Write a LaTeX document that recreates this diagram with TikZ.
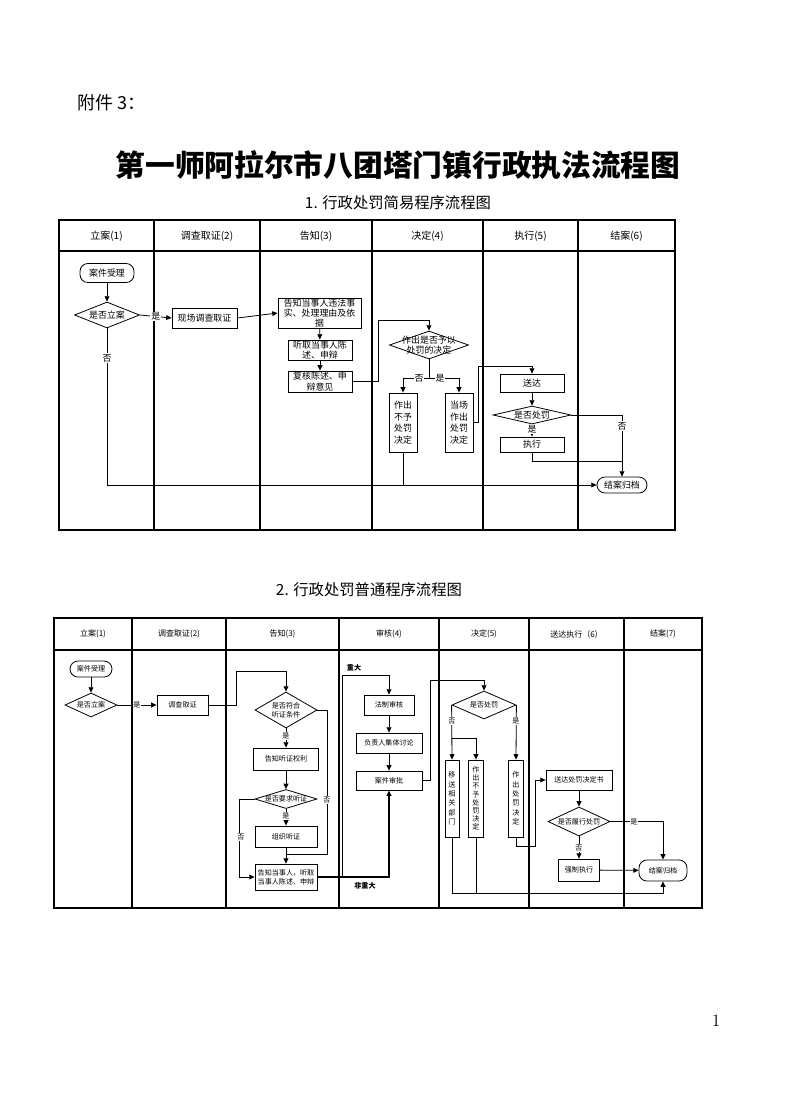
\documentclass[tikz,border=0pt]{standalone}
\usepackage{fontspec}
\newfontfamily\cjk{Noto Sans CJK SC}
\usetikzlibrary{shapes.geometric,arrows.meta,positioning,calc}

\tikzset{
  lane/.style={line width=0.9pt},
  box/.style={draw, rectangle, inner sep=0pt, align=center, line width=0.6pt},
  dec/.style={draw, diamond, inner sep=0pt, line width=0.6pt},
  term/.style={draw, rounded corners=6pt, inner sep=0pt, line width=0.6pt},
  flow/.style={line width=0.6pt, -{Triangle[length=4pt,width=3.6pt]}},
  link/.style={line width=0.6pt},
  lbl/.style={fill=white, inner sep=0.6pt},
  tA/.style={align=center, font=\cjk\fontsize{6.7}{7.8}\selectfont},
  tB/.style={align=center, font=\cjk\fontsize{5.3}{6.6}\selectfont},
  headA/.style={font=\cjk\fontsize{7.5}{9}\selectfont},
  headB/.style={font=\cjk\fontsize{6}{7}\selectfont},
}

\begin{document}
\begin{tikzpicture}[x=0.75pt, y=-0.75pt]
\useasboundingbox (0,0) rectangle (794,1108);

% Titles
\node[anchor=west, font=\cjk\fontsize{13.5}{16}\selectfont] (annex) at (73,103) {附件 3：};
\node[font=\cjk\bfseries\fontsize{22.3}{27}\selectfont] (title) at (398,165) {第一师阿拉尔市八团塔门镇行政执法流程图};
\node[font=\cjk\fontsize{11.5}{13}\selectfont] (subA) at (398,203) {1. 行政处罚简易程序流程图};
\node[font=\cjk\fontsize{11.5}{13}\selectfont] (subB) at (369,590) {2. 行政处罚普通程序流程图};
\node[font=\fontsize{13}{15}\selectfont] (pageno) at (716,1021) {1};

% Lanes, simple procedure
\draw[lane] (59,220) rectangle (675,530);
\draw[lane] (59,251) -- (675,251);
\draw[lane] (154,220) -- (154,530);
\draw[lane] (260,220) -- (260,530);
\draw[lane] (372,220) -- (372,530);
\draw[lane] (483,220) -- (483,530);
\draw[lane] (578,220) -- (578,530);
\node[headA] (aHead1) at (106.5,236) {立案(1)};
\node[headA] (aHead2) at (207,236) {调查取证(2)};
\node[headA] (aHead3) at (316,236) {告知(3)};
\node[headA] (aHead4) at (427.5,236) {决定(4)};
\node[headA] (aHead5) at (530.5,236) {执行(5)};
\node[headA] (aHead6) at (626.5,236) {结案(6)};

% Nodes, simple procedure
\node[term, tA, minimum width=40.5pt, minimum height=14.3pt] (aAccept) at (107,273) {案件受理};
\node[dec, minimum width=48.8pt, minimum height=19.5pt, label={[tA]center:是否立案}] (aFile) at (107,315) {};
\node[box, tA, minimum width=48.8pt, minimum height=15pt] (aInvest) at (204.5,318) {现场调查取证};
\node[box, tA, minimum width=62.3pt, minimum height=22.5pt] (aNotify) at (319.5,313) {告知当事人违法事\\实、处理理由及依\\据};
\node[box, tA, minimum width=48pt, minimum height=15pt] (aHear) at (320,350) {听取当事人陈\\述、申辩};
\node[box, tA, minimum width=48pt, minimum height=15.8pt] (aReview) at (320,381.5) {复核陈述、申\\辩意见};
\node[dec, minimum width=59.3pt, minimum height=21pt, label={[tA]center:作出是否予以\\处罚的决定}] (aDecide) at (429,345) {};
\node[box, tA, minimum width=21pt, minimum height=44.3pt, font=\cjk\fontsize{6.7}{8.6}\selectfont] (aNo) at (403,422.5) {作出\\不予\\处罚\\决定};
\node[box, tA, minimum width=21pt, minimum height=44.3pt, font=\cjk\fontsize{6.7}{8.6}\selectfont] (aYes) at (459,422.5) {当场\\作出\\处罚\\决定};
\node[box, tA, minimum width=48pt, minimum height=13.5pt] (aServe) at (532,383) {送达};
\node[dec, minimum width=58.5pt, minimum height=13.5pt, label={[tA]center:是否处罚}] (aPunish) at (532,415) {};
\node[box, tA, minimum width=48pt, minimum height=11.3pt] (aExec) at (532,444.5) {执行};
\node[term, tA, minimum width=37.5pt, minimum height=12pt] (aClose) at (622,485) {结案归档};
\coordinate (aSplit) at ($(aDecide.south)+(0,19)$);

% Connectors, simple procedure
\draw[flow] (aAccept) -- (aFile);
\draw[flow] (aFile.east) -- (aInvest.west) node[lbl, tA, midway] (aYesLbl) {是};
\draw[flow] (aInvest.east) -- (aNotify.west);
\draw[flow] (aNotify) -- (aHear);
\draw[flow] (aHear) -- (aReview);
\draw[flow] (aReview.east) -- ++(26,0) |- ($(aDecide.north)+(0,-10)$) -- (aDecide.north);
\draw[link] (aDecide.south) -- (aSplit);
\draw[flow] (aSplit) -| (aNo.north);
\draw[flow] (aSplit) -| (aYes.north);
\node[lbl, tA] (aSplitNo) at (419,378) {否};
\node[lbl, tA] (aSplitYes) at (440,378) {是};
\draw[flow] (aYes.east) -- ++(5,0) |- ($(aServe.north)+(0,-7)$) -- (aServe.north);
\draw[flow] (aServe) -- (aPunish);
\draw[flow] (aPunish) -- (aExec);
\node[lbl, tA] (aPunishYes) at (532,429) {是};
\draw[flow] (aPunish.east) -| (aClose.north);
\node[lbl, tA] (aPunishNo) at (622,426) {否};
\draw[link] (aExec.south) |- ($(aClose.north)+(0,-15)$);
\draw[flow] (aFile.south) |- (aClose.west);
\node[lbl, tA] (aFileNo) at (107,358) {否};
\draw[link] (aNo.south) -- (aNo.south |- aClose.west);

% Lanes, ordinary procedure
\draw[lane] (54,618) rectangle (702,908);
\draw[lane] (54,650) -- (702,650);
\draw[lane] (132,618) -- (132,908);
\draw[lane] (226,618) -- (226,908);
\draw[lane] (339,618) -- (339,908);
\draw[lane] (439,618) -- (439,908);
\draw[lane] (529,618) -- (529,908);
\draw[lane] (624,618) -- (624,908);
\node[headB] (bHead1) at (93,634) {立案(1)};
\node[headB] (bHead2) at (179,634) {调查取证(2)};
\node[headB] (bHead3) at (282.5,634) {告知(3)};
\node[headB] (bHead4) at (389,634) {审核(4)};
\node[headB] (bHead5) at (484,634) {决定(5)};
\node[headB] (bHead6) at (576.5,634) {送达执行（6）};
\node[headB] (bHead7) at (663,634) {结案(7)};

% Nodes, ordinary procedure
\node[term, tB, minimum width=31.5pt, minimum height=12pt] (bAccept) at (91,669) {案件受理};
\node[dec, minimum width=39pt, minimum height=18pt, label={[tB]center:是否立案}] (bFile) at (91,705) {};
\node[box, tB, minimum width=38.3pt, minimum height=15pt] (bInvest) at (182.5,705) {调查取证};
\node[dec, minimum width=46.5pt, minimum height=27pt, label={[tB]center:是否符合\\听证条件}] (bHearCond) at (286,710) {};
\node[box, tB, minimum width=48.8pt, minimum height=16.5pt] (bRight) at (286,759) {告知听证权利};
\node[dec, minimum width=46.5pt, minimum height=14.3pt, label={[tB]center:是否要求听证}] (bAsk) at (286,799) {};
\node[box, tB, minimum width=46.5pt, minimum height=15.8pt] (bOrg) at (286,836.5) {组织听证};
\node[box, tB, minimum width=46.5pt, minimum height=19.5pt] (bTell) at (286,877) {告知当事人，听取\\当事人陈述、申辩};
\node[box, tB, minimum width=37.5pt, minimum height=15pt] (bLegal) at (389,705) {法制审核};
\node[box, tB, minimum width=49.5pt, minimum height=15pt] (bGroup) at (389,743) {负责人集体讨论};
\node[box, tB, minimum width=49.5pt, minimum height=14.3pt] (bApprove) at (389,780.5) {案件审批};
\node[dec, minimum width=48pt, minimum height=21pt, label={[tB]center:是否处罚}] (bPunish) at (484,705) {};
\node[box, tB, minimum width=10.5pt, minimum height=57.8pt, font=\cjk\fontsize{5.3}{7}\selectfont] (bTransfer) at (452,798.5) {移\\送\\相\\关\\部\\门};
\node[box, tB, minimum width=11.3pt, minimum height=57.8pt, font=\cjk\fontsize{5.3}{6.1}\selectfont] (bNone) at (476,798.5) {作\\出\\不\\予\\处\\罚\\决\\定};
\node[box, tB, minimum width=11.3pt, minimum height=57.8pt, font=\cjk\fontsize{5.3}{7}\selectfont] (bDo) at (516,798.5) {作\\出\\处\\罚\\决\\定};
\node[box, tB, minimum width=49.5pt, minimum height=15pt] (bServe) at (579,780) {送达处罚决定书};
\node[dec, minimum width=46.5pt, minimum height=21.8pt, label={[tB]center:是否履行处罚}] (bComply) at (579,821.5) {};
\node[box, tB, minimum width=30.8pt, minimum height=16.5pt] (bForce) at (579,870) {强制执行};
\node[term, tB, minimum width=36pt, minimum height=15.8pt] (bClose) at (663,870.5) {结案归档};
\coordinate (bFork) at ($(bTell.east)+(25,0)$);
\coordinate (bSplit) at ($(bPunish.west)+(0,33)$);
\coordinate (bBottom) at ($(bClose.south)+(0,12)$);

% Connectors, ordinary procedure
\draw[flow] (bAccept) -- (bFile);
\draw[flow] (bFile.east) -- (bInvest.west) node[lbl, tB, midway] (bFileYes) {是};
\draw[flow] (bInvest.east) -- ++(28,0) |- ($(bHearCond.north)+(0,-20)$) -- (bHearCond.north);
\draw[flow] (bHearCond) -- (bRight);
\node[lbl, tB] (bHearYes) at (286,736) {是};
\draw[link] (bHearCond.east) -| ($(bTell.north)+(41,-9)$) -- ($(bTell.north)+(0,-9)$);
\node[lbl, tB] (bHearNo) at (327,800) {否};
\draw[flow] (bRight) -- (bAsk);
\draw[flow] (bAsk) -- (bOrg);
\node[lbl, tB] (bAskYes) at (286,816) {是};
\draw[flow] (bOrg) -- (bTell);
\draw[flow] (bAsk.west) -| ($(bTell.west)+(-15,0)$) -- (bTell.west);
\node[lbl, tB] (bAskNo) at (241,837) {否};
\draw[flow, line width=1.1pt] (bTell.east) -| (bApprove.south);
\draw[flow] (bFork) |- ($(bLegal.north)+(0,-19)$) -- (bLegal.north);
\node[tB, font=\cjk\bfseries\fontsize{5.3}{6.6}\selectfont] (bMajor) at (354,668) {重大};
\node[tB, font=\cjk\bfseries\fontsize{5.3}{6.6}\selectfont] (bMinor) at (365,886) {非重大};
\draw[flow] (bLegal) -- (bGroup);
\draw[flow] (bGroup) -- (bApprove);
\draw[flow] (bApprove.east) -- ++(8,0) |- ($(bPunish.north)+(0,-10)$) -- (bPunish.north);
\draw[flow] (bPunish.west) -- (bTransfer.north);
\draw[flow] (bSplit) -| (bNone.north);
\node[lbl, tB] (bPunishNo) at (452,721) {否};
\draw[flow] (bPunish.east) -- (bDo.north);
\node[lbl, tB] (bPunishYes) at (516,721) {是};
\draw[flow] (bDo.south) -- ++(0,9) -| ($(bServe.west)+(-10,0)$) -- (bServe.west);
\draw[flow] (bServe) -- (bComply);
\draw[flow] (bComply.east) -| (bClose.north);
\node[lbl, tB] (bComplyYes) at (634,821.5) {是};
\draw[flow] (bComply) -- (bForce);
\node[lbl, tB] (bComplyNo) at (579,848) {否};
\draw[flow] (bForce) -- (bClose);
\draw[flow] (bTransfer.south) |- (bBottom) -- (bClose.south);
\draw[link] (bNone.south) -- (bNone.south |- bBottom);
\end{tikzpicture}
\end{document}
